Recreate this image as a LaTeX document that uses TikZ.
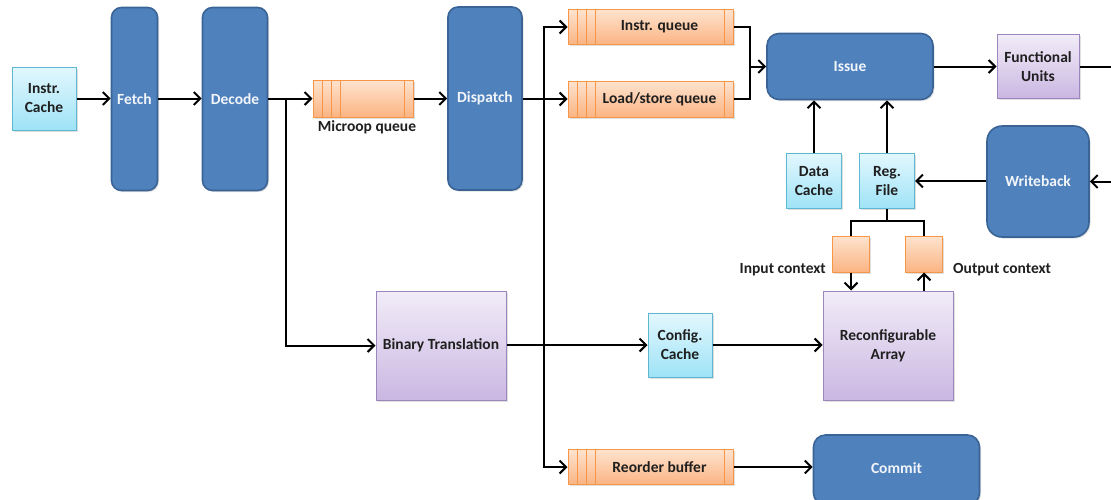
\documentclass[tikz,border=0pt]{standalone}
\usepackage{fontspec}
\setmainfont{Carlito}
\usetikzlibrary{arrows.meta,shadows,calc}
\definecolor{blueF}{HTML}{4F81BD}
\definecolor{blueD}{HTML}{3A6496}
\definecolor{cyanT}{HTML}{E2F7FD}
\definecolor{cyanB}{HTML}{9FE3F7}
\definecolor{cyanD}{HTML}{5BB8D0}
\definecolor{purT}{HTML}{F1ECF8}
\definecolor{purB}{HTML}{CBB7E2}
\definecolor{purD}{HTML}{9C86BE}
\definecolor{orT}{HTML}{FEE3CE}
\definecolor{orB}{HTML}{FBB483}
\definecolor{orD}{HTML}{F79646}
\definecolor{txt}{HTML}{1F1F1F}
\definecolor{btxt}{HTML}{F2F5FA}
\tikzset{
  shd/.style={drop shadow={shadow xshift=1.5pt,shadow yshift=-1.5pt,opacity=0.25}},
  bluebox/.style={shd,draw=blueD,line width=1.6pt,fill=blueF,rounded corners=10pt,text=btxt,align=center,inner sep=0pt},
  cyanbox/.style={shd,draw=cyanD,line width=1pt,top color=cyanT,bottom color=cyanB,align=center,text=txt,inner sep=0pt},
  purbox/.style={shd,draw=purD,line width=1pt,top color=purT,bottom color=purB,align=center,text=txt,inner sep=0pt},
  orbox/.style={shd,draw=orD,line width=1pt,top color=orT,bottom color=orB,inner sep=0pt},
  queuebox/.style={orbox,text=txt,execute at begin node={\hspace*{18pt}},
    path picture={
      \foreach \d in {9,18,27}{\draw[orD,line width=0.8pt] ([xshift=\d pt]path picture bounding box.south west) -- ([xshift=\d pt]path picture bounding box.north west);}
      \draw[orD,line width=0.8pt] ([xshift=-8.5pt]path picture bounding box.south east) -- ([xshift=-8.5pt]path picture bounding box.north east);
    }},
  arr/.style={line width=2pt,-{Straight Barb[length=6.5pt,width=13pt]}},
  ln/.style={line width=2pt},
  lbl/.style={text=txt,inner sep=0pt}
}
\begin{document}
\begin{tikzpicture}[x=1pt,y=-1pt,font=\fontsize{15.5}{19}\selectfont\bfseries]
\useasboundingbox (0,0) rectangle (1111,499);
% nodes
\node[cyanbox,minimum width=64pt,minimum height=63pt] (icache) at (44,98.5) {Instr.\\Cache};
\node[bluebox,minimum width=46pt,minimum height=183pt] (fetch) at (134.5,99) {Fetch};
\node[bluebox,minimum width=65pt,minimum height=183pt] (decode) at (235,99) {Decode};
\node[queuebox,minimum width=100pt,minimum height=37pt] (mq) at (363,98.5) {};
\node[lbl] (mqlabel) at (367,127) {Microop queue};
\node[bluebox,minimum width=74pt,minimum height=183pt] (dispatch) at (485,98.5) {Dispatch};
\node[queuebox,minimum width=165pt,minimum height=35pt] (iq) at (650.5,27) {Instr. queue};
\node[queuebox,minimum width=165pt,minimum height=36pt] (lsq) at (650.5,99) {Load/store queue};
\node[bluebox,rounded corners=12pt,minimum width=166pt,minimum height=66pt] (issue) at (850,66.5) {Issue};
\node[purbox,minimum width=82pt,minimum height=64pt] (fu) at (1038,66.5) {Functional\\Units};
\node[bluebox,rounded corners=15pt,minimum width=102pt,minimum height=111pt] (wb) at (1038,181.5) {Writeback};
\node[cyanbox,minimum width=55pt,minimum height=55pt] (dcache) at (814,181) {Data\\Cache};
\node[cyanbox,minimum width=55pt,minimum height=55pt] (regfile) at (887,181) {Reg.\\File};
\node[orbox,minimum width=37pt,minimum height=36pt] (ic) at (851,254) {};
\node[orbox,minimum width=37pt,minimum height=36pt] (oc) at (924,254) {};
\node[lbl,anchor=east] (iclabel) at (826,270) {Input context};
\node[lbl,anchor=west] (oclabel) at (953,270) {Output context};
\node[purbox,minimum width=130pt,minimum height=109pt] (ra) at (888,345.5) {Reconfigurable\\Array};
\node[purbox,minimum width=130pt,minimum height=109pt] (bt) at (441,345.5) {Binary Translation};
\node[cyanbox,minimum width=64pt,minimum height=64pt] (cc) at (680,345) {Config.\\Cache};
\node[queuebox,minimum width=165pt,minimum height=35pt] (rob) at (650.5,467) {Reorder buffer};
\node[bluebox,rounded corners=12pt,minimum width=166pt,minimum height=70pt] (commit) at (896.5,470) {\raisebox{3pt}{Commit}};
% coordinates
\coordinate (dsplit) at (286,99);
\coordinate (split2) at (544,98.5);
\coordinate (join) at (750,66.5);
\coordinate (rt) at (1112,66.5);
\coordinate (rfs) at (887,221);
% connectors
\draw[arr] (icache.east) -- (icache.east -| fetch.west);
\draw[arr] (fetch.east |- icache.east) -- (icache.east -| decode.west);
\draw[arr] (decode.east |- mq.west) -- (mq.west);
\draw[arr] (dsplit) |- (bt.west);
\draw[arr] (mq.east) -- (mq.east -| dispatch.west);
\draw[arr] (dispatch.east |- lsq.west) -- (lsq.west);
\draw[arr] (split2) |- (iq.west);
\draw[arr] (split2) |- (rob.west);
\draw[ln] (iq.east) -| (join);
\draw[ln] (lsq.east) -| (join);
\draw[arr] (join) -- (issue.west);
\draw[arr] (issue.east) -- (issue.east -| fu.west);
\draw[arr] (fu.east) -- (rt) |- (wb.east);
\draw[arr] (wb.west |- regfile.east) -- (regfile.east);
\draw[arr] (dcache.north) -- (dcache.north |- issue.south);
\draw[arr] (regfile.north) -- (regfile.north |- issue.south);
\draw[ln] (regfile.south) -- (rfs);
\draw[ln] (ic.north) |- (rfs) -| (oc.north);
\draw[arr] (ic.south) -- (ic.south |- ra.north);
\draw[arr] (oc.south |- ra.north) -- (oc.south);
\draw[arr] (bt.east |- cc.west) -- (cc.west);
\draw[arr] (cc.east) -- (cc.east -| ra.west);
\draw[arr] (rob.east) -- (rob.east -| commit.west);
\end{tikzpicture}
\end{document}
